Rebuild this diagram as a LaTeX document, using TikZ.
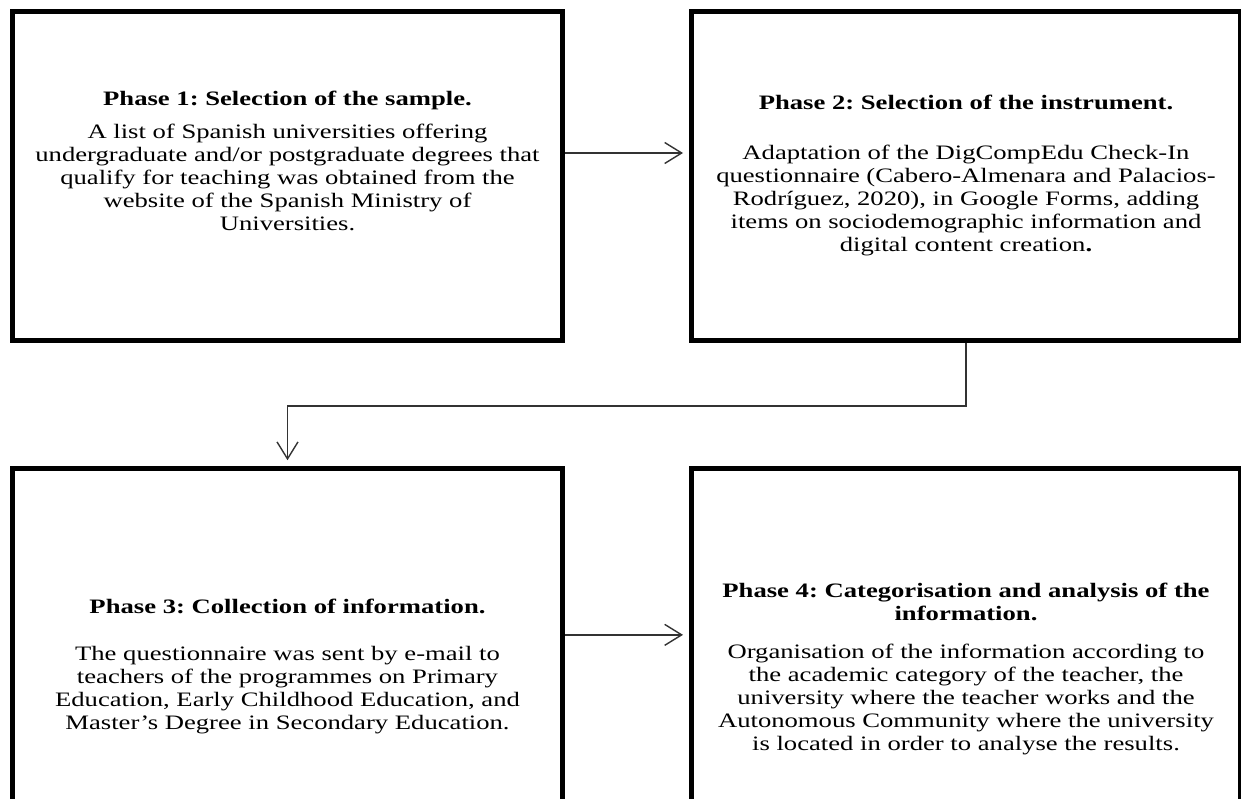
\documentclass[tikz,border=0pt]{standalone}
\usepackage{fontspec}
\setmainfont[FakeStretch=1.3]{Liberation Serif}
\usetikzlibrary{arrows.meta}
\frenchspacing
\newcommand{\phtext}[1]{\parbox[t]{540pt}{\centering\frenchspacing\fontsize{20.5}{23}\selectfont #1}}
\tikzset{
  phasebox/.style={draw=black, line width=5pt, inner sep=0pt, fill=none},
  ttl/.style={font=\bfseries, inner sep=0pt, anchor=base},
  bdy/.style={inner sep=0pt, anchor=base},
  conn/.style={draw=black!80, line width=1.4pt, -{Straight Barb[length=17pt,width=21pt,line width=1.4pt]}, shorten >=6pt}
}
\begin{document}
\begin{tikzpicture}[x=1pt,y=-1pt]
\useasboundingbox (0,0) rectangle (1241,798);
\clip (0,0) rectangle (1241,798);
% boxes
\node[phasebox, minimum width=550pt, minimum height=329.5pt] (b1) at (287.5,175.75) {};
\node[phasebox, minimum width=549pt, minimum height=329.5pt] (b2) at (966,175.75) {};
\node[phasebox, minimum width=550pt, minimum height=332.3pt] (b3) at (287.5,634.85) {};
\node[phasebox, minimum width=549pt, minimum height=332.3pt] (b4) at (966,634.85) {};
% texts
\node[ttl] (t1) at (287.5,105) {\phtext{\bfseries Phase 1: Selection of the sample.}};
\node[bdy] (x1) at (287.5,138) {\phtext{A list of Spanish universities offering\\undergraduate and/or postgraduate degrees that\\qualify for teaching was obtained from the\\website of the Spanish Ministry of\\Universities.}};
\node[ttl] (t2) at (966,109) {\phtext{\bfseries Phase 2: Selection of the instrument.}};
\node[bdy] (x2) at (966,159) {\phtext{Adaptation of the DigCompEdu Check-In\\questionnaire (Cabero-Almenara and Palacios-\\Rodríguez, 2020), in Google Forms, adding\\items on sociodemographic information and\\digital content creation\textbf{.}}};
\node[ttl] (t3) at (287.5,613) {\phtext{\bfseries Phase 3: Collection of information.}};
\node[bdy] (x3) at (287.5,660) {\phtext{The questionnaire was sent by e-mail to\\teachers of the programmes on Primary\\Education, Early Childhood Education, and\\Master's Degree in Secondary Education.}};
\node[ttl] (t4) at (966,597) {\phtext{\bfseries Phase 4: Categorisation and analysis of the\\information.}};
\node[bdy] (x4) at (966,658) {\phtext{Organisation of the information according to\\the academic category of the teacher, the\\university where the teacher works and the\\Autonomous Community where the university\\is located in order to analyse the results.}};
% connectors
\coordinate (a1) at (0,153);
\coordinate (m) at (0,406);
\draw[conn] (b1.east |- a1) -- (b2.west |- a1);
\draw[conn] (b2.south) -- (b2.south |- m) -| (b3.north);
\draw[conn] (b3.east) -- (b4.west);
\end{tikzpicture}
\end{document}
